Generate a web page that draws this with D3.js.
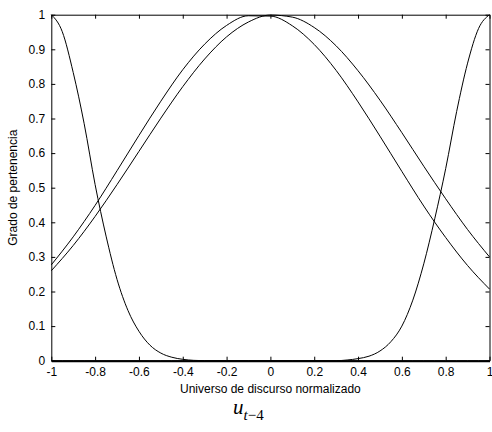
<!DOCTYPE html>
<html>
<head>
<meta charset="utf-8">
<script src="https://cdn.jsdelivr.net/npm/d3@7"></script>
<style>
  body { margin: 0; background: #fff; }
  svg { display: block; font-family: "Liberation Sans", Arial, sans-serif; }
  .axis text { font-size: 12px; fill: #000; }
  .axis line, .axis path { stroke: #000; }
</style>
</head>
<body>
<svg class="chart" width="492" height="432"></svg>
<script>
// universe of discourse samples
var xs = [-1, -0.95, -0.9, -0.85, -0.8, -0.75, -0.7, -0.65, -0.6, -0.55, -0.5, -0.45, -0.4, -0.35, -0.3, -0.2, -0.1, 0,
  0.1, 0.2, 0.3, 0.35, 0.4, 0.45, 0.5, 0.55, 0.6, 0.65, 0.7, 0.75, 0.8, 0.85, 0.9, 0.95, 1];
// left shoulder set
var lowSet = [1, 0.951, 0.833, 0.685, 0.509, 0.36, 0.235, 0.145, 0.085, 0.045, 0.022, 0.01, 0.004, 0.001, 0, 0, 0, 0,
  0, 0, 0, 0, 0, 0, 0, 0, 0, 0, 0, 0, 0, 0, 0, 0, 0];
// right shoulder set
var highSet = [0, 0, 0, 0, 0, 0, 0, 0, 0, 0, 0, 0, 0, 0, 0, 0, 0, 0,
  0, 0, 0, 0.002, 0.006, 0.013, 0.028, 0.055, 0.1, 0.175, 0.28, 0.41, 0.555, 0.72, 0.86, 0.96, 1];
// bell sets, centred slightly left and slightly right of zero
var xb = [-1, -0.9, -0.8, -0.7, -0.6, -0.5, -0.4, -0.3, -0.2, -0.1, 0, 0.1, 0.2, 0.3, 0.4, 0.5, 0.6, 0.7, 0.8, 0.9, 1];
var bellLeft = [0.277, 0.358, 0.449, 0.549, 0.651, 0.750, 0.841, 0.915, 0.969, 0.997, 0.996, 0.968, 0.914, 0.839, 0.748,
  0.649, 0.547, 0.447, 0.356, 0.275, 0.207];
var bellRight = [0.260, 0.333, 0.417, 0.509, 0.605, 0.701, 0.792, 0.872, 0.936, 0.979, 0.999, 0.993, 0.963, 0.910, 0.838,
  0.753, 0.659, 0.562, 0.468, 0.379, 0.300];

var xTicks = [-1, -0.8, -0.6, -0.4, -0.2, 0, 0.2, 0.4, 0.6, 0.8, 1];
var yTicks = [0, 0.1, 0.2, 0.3, 0.4, 0.5, 0.6, 0.7, 0.8, 0.9, 1];

(function () {
  var margin = {top: 14.7, right: 2.5, bottom: 71.3, left: 51.3};
  var width = 492 - margin.left - margin.right;
  var height = 432 - margin.top - margin.bottom;

  var svg = d3.select(".chart");
  var vis = svg.append("g")
      .attr("transform", "translate(" + margin.left + "," + margin.top + ")");

  var xscale = d3.scaleLinear().domain([-1, 1]).range([0, width]);
  var yscale = d3.scaleLinear().domain([0, 1]).range([height, 0]);

  var fmt = function(d) { return String(d); };

  // top and right: ticks only
  vis.append("g")
    .attr("class", "axis")
    .call(d3.axisTop(xscale).tickValues(xTicks).tickSizeInner(-4).tickSizeOuter(0).tickFormat(""));
  vis.append("g")
    .attr("class", "axis")
    .attr("transform", "translate(" + width + ",0)")
    .call(d3.axisRight(yscale).tickValues(yTicks).tickSizeInner(-4).tickSizeOuter(0).tickFormat(""));

  vis.append("g")
    .attr("class", "axis")
    .call(d3.axisLeft(yscale).tickValues(yTicks).tickSizeInner(-4).tickSizeOuter(0).tickPadding(6).tickFormat(fmt));

  var xg = vis.append("g")
    .attr("class", "axis")
    .attr("transform", "translate(0," + height + ")")
    .call(d3.axisBottom(xscale).tickValues(xTicks).tickSizeInner(-4).tickSizeOuter(0).tickPadding(7).tickFormat(fmt));
  xg.select(".domain").attr("stroke-width", 2);

  var line = d3.line()
    .x(function(d) { return xscale(d[0]); })
    .y(function(d) { return yscale(d[1]); })
    .curve(d3.curveMonotoneX);

  function pairs(x, y) {
    return x.map(function(v, i) { return [v, y[i]]; });
  }

  [pairs(xs, lowSet), pairs(xs, highSet), pairs(xb, bellLeft), pairs(xb, bellRight)].forEach(function(s) {
    vis.append("path")
      .attr("d", line(s))
      .attr("fill", "none")
      .attr("stroke", "#000")
      .attr("stroke-width", 1);
  });

  svg.append("text")
    .attr("x", margin.left + width / 2)
    .attr("y", 393)
    .attr("text-anchor", "middle")
    .style("font-size", "12px")
    .text("Universo de discurso normalizado");

  svg.append("text")
    .attr("transform", "translate(17," + (margin.top + height / 2) + ") rotate(-90)")
    .attr("text-anchor", "middle")
    .style("font-size", "12px")
    .text("Grado de pertenencia");

  var sub = svg.append("text")
    .attr("x", 233)
    .attr("y", 414)
    .style("font-family", "'Liberation Serif', 'Times New Roman', serif")
    .style("font-size", "21px");
  sub.append("tspan").style("font-style", "italic").text("u");
  sub.append("tspan").attr("dy", 6).style("font-size", "15px").style("font-style", "italic").text("t");
  sub.append("tspan").style("font-size", "15px").text("\u22124");
})();
</script>
</body>
</html>
